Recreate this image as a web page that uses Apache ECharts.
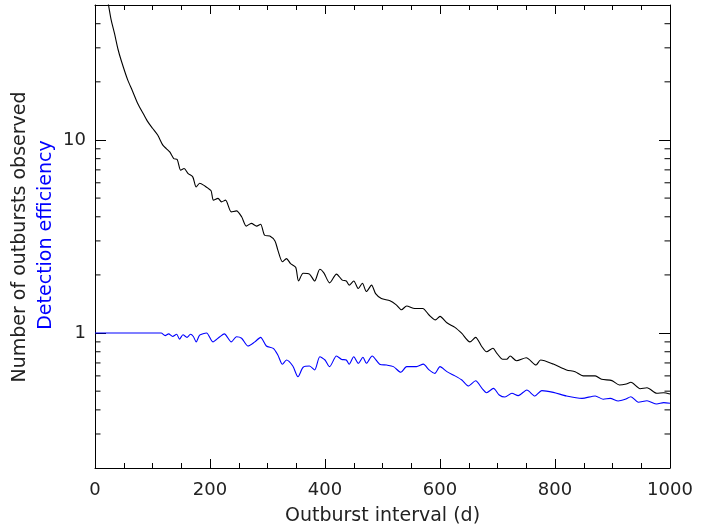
<!DOCTYPE html>
<html>
<head>
<meta charset="utf-8">
<script src="https://cdn.jsdelivr.net/npm/echarts@6/dist/echarts.min.js"></script>
<style>
html,body{margin:0;padding:0;background:#fff;}
#chart{width:715px;height:527px;}
</style>
</head>
<body>
<div id="chart"></div>
<script>
// ---- data ----
const xTickLabels = [0, 200, 400, 600, 800, 1000];
const yMajorLabels = [1, 10];
const yMinorTicks = [0.3,0.4,0.5,0.6,0.7,0.8,0.9,2,3,4,5,6,7,8,9,20,30,40];

const observedX = [20,23.5,28,34,40,45.6,57,65,74.5,85,92,100,109,118,124,130,137,143,149,155,162,170,176,182,191,197,202,206,214,220,227,237,246,255,263,272,281,288,295,304,313,318,326,333,340,349,354,362,373,382,391,398,408,420,430,437,442,450,458,465,472,481,488,498,513,524,533,542,556,570,581,592,600,612,626,638,652,662,672,681,692,699,709,716,722,733,750,767,775,797,820,835,849,870,881,899,912,924,932,948,960,977,989,1000];
const observedY = [58,50,42,35.5,29.5,25.8,20.4,18.0,15.4,13.5,12.4,11.5,10.6,9.4,9.02,8.67,8.01,7.92,6.97,7.11,6.70,6.44,5.71,5.97,5.78,5.61,5.45,4.88,4.98,4.78,4.88,4.24,4.29,4.0,3.58,3.70,3.58,3.66,3.21,3.18,3.0,2.69,2.34,2.43,2.29,2.19,1.86,2.04,2.02,1.86,2.14,2.05,1.82,2.02,1.88,1.86,1.77,1.86,1.70,1.81,1.64,1.77,1.60,1.51,1.47,1.40,1.32,1.38,1.34,1.34,1.24,1.17,1.22,1.13,1.07,0.995,0.90,0.95,0.857,0.80,0.834,0.785,0.731,0.731,0.76,0.719,0.745,0.683,0.725,0.691,0.644,0.631,0.60,0.60,0.576,0.567,0.538,0.545,0.556,0.515,0.521,0.488,0.491,0.483];

const effX = [0,50,100,115,122,128,135,142,147,153,160,166,171,176,182,194,205,217,225,237,246,255,266,278,288,298,310,318,326,333,344,353,362,373,382,391,400,408,420,429,437,442,450,458,466,472,482,495,507,519,532,542,559,571,581,591,600,612,626,638,649,662,673,681,693,703,713,725,736,751,765,777,797,820,847,870,884,896,910,922,932,945,960,977,989,1000];
const effY = [1.0,1.0,1.0,1.0,0.97,0.99,0.96,0.985,0.93,0.98,0.95,0.985,0.96,0.90,0.976,1.0,0.90,0.957,0.99,0.90,0.957,0.94,0.857,0.90,0.95,0.857,0.833,0.77,0.689,0.725,0.675,0.594,0.665,0.675,0.644,0.754,0.725,0.67,0.76,0.73,0.725,0.689,0.754,0.697,0.749,0.697,0.76,0.69,0.683,0.67,0.626,0.67,0.67,0.69,0.644,0.618,0.67,0.631,0.60,0.571,0.532,0.566,0.517,0.491,0.517,0.478,0.466,0.488,0.474,0.507,0.472,0.503,0.493,0.472,0.459,0.472,0.454,0.459,0.445,0.454,0.468,0.438,0.446,0.429,0.436,0.433];

const xTitle = 'Outburst interval (d)';
const yTitle1 = 'Number of outbursts observed';
const yTitle2 = 'Detection efficiency';

// ---- build ----
const zip = (a, b) => a.map((v, i) => [v, b[i]]);
const FONT = 'DejaVu Sans';
const TXT = '#222';

const isMajor = v => yMajorLabels.some(m => Math.abs(v - m) < 1e-6 * m);

const chart = echarts.init(document.getElementById('chart'), null, {renderer: 'canvas'});

const xCommon = {
  type: 'value', min: 0, max: 1000, interval: 200,
  axisLine: {show: true, onZero: false, lineStyle: {color: '#000', width: 1}},
  axisTick: {show: true, inside: true, length: 9, lineStyle: {color: '#000'}},
  minorTick: {show: true, splitNumber: 4, length: 5, lineStyle: {color: '#000'}},
  splitLine: {show: false}
};
const yCommon = {
  type: 'log', logBase: 10, min: 0.2, max: 50,
  axisLine: {show: true, onZero: false, lineStyle: {color: '#000', width: 1}},
  axisTick: {show: true, inside: true, length: 11, lineStyle: {color: '#000'},
    customValues: yMajorLabels},
  splitLine: {show: false},
  minorTick: {show: false}
};

chart.setOption({
  animation: false,
  backgroundColor: '#fff',
  grid: {left: 95, right: 45, top: 5, bottom: 59, containLabel: false, outerBoundsMode: 'none'},
  xAxis: [
    Object.assign({}, xCommon, {
      position: 'bottom',
      name: xTitle, nameLocation: 'middle', nameGap: 39,
      nameTextStyle: {fontFamily: FONT, fontSize: 19, color: TXT},
      axisLabel: {show: true, fontFamily: FONT, fontSize: 18, color: TXT, margin: 13,
        formatter: v => xTickLabels.includes(v) ? String(v) : ''}
    }),
    Object.assign({}, xCommon, {position: 'top', axisLabel: {show: false}})
  ],
  yAxis: [
    Object.assign({}, yCommon, {
      position: 'left',
      axisLabel: {show: true, fontFamily: FONT, fontSize: 18, color: TXT, margin: 9,
        customValues: yMajorLabels,
        formatter: v => isMajor(v) ? String(Math.round(v)) : ''}
    }),
    Object.assign({}, yCommon, {position: 'right', axisLabel: {show: false}})
  ],
  graphic: [
    {type: 'text', x: 20, y: 237, rotation: Math.PI / 2,
     style: {text: yTitle1, fill: TXT, font: '19px "DejaVu Sans"', align: 'center', verticalAlign: 'middle'}},
    {type: 'text', x: 46, y: 235, rotation: Math.PI / 2,
     style: {text: yTitle2, fill: '#0000ff', font: '19px "DejaVu Sans"', align: 'center', verticalAlign: 'middle'}}
  ],
  series: [
    {
      name: 'observed', type: 'line', xAxisIndex: 0, yAxisIndex: 0,
      data: zip(observedX, observedY), showSymbol: false, smooth: 0.25,
      lineStyle: {color: '#000', width: 1.1}, clip: true, silent: true
    },
    {
      name: 'efficiency', type: 'line', xAxisIndex: 0, yAxisIndex: 0,
      data: zip(effX, effY), showSymbol: false, smooth: 0.25,
      lineStyle: {color: '#0000ff', width: 1.1}, clip: true, silent: true
    },
    {
      name: 'yMinorTicks', type: 'custom', xAxisIndex: 0, yAxisIndex: 0, silent: true,
      data: yMinorTicks.map(v => [0, v]),
      renderItem: function (params, api) {
        const v = api.value(1);
        const pL = api.coord([0, v]);
        const pR = api.coord([1000, v]);
        const len = 5.5;
        return {
          type: 'group',
          children: [
            {type: 'line', shape: {x1: pL[0], y1: pL[1], x2: pL[0] + len, y2: pL[1]},
             style: {stroke: '#000', lineWidth: 1}},
            {type: 'line', shape: {x1: pR[0] - len, y1: pR[1], x2: pR[0], y2: pR[1]},
             style: {stroke: '#000', lineWidth: 1}}
          ]
        };
      }
    }
  ]
});
</script>
</body>
</html>
